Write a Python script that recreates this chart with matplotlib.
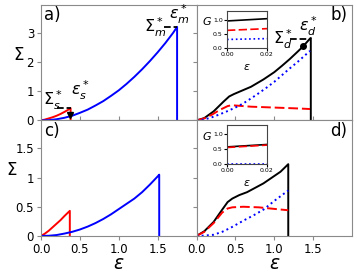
import numpy as np
import matplotlib
matplotlib.use("Agg")
import matplotlib.pyplot as plt

plt.rcParams["font.family"] = "DejaVu Sans"
plt.rcParams["mathtext.fontset"] = "dejavusans"

# panel a) single-fibre curves
eps_a_red = [0, 0.05, 0.1, 0.15, 0.2, 0.25, 0.3, 0.34, 0.38, 0.38]
sig_a_red = [0, 0.03, 0.07, 0.11, 0.16, 0.22, 0.29, 0.35, 0.42, 0]
eps_a_blue = [0, 0.1, 0.2, 0.3, 0.4, 0.5, 0.6, 0.7, 0.8, 0.9, 1.0, 1.1, 1.2,
              1.3, 1.4, 1.5, 1.6, 1.7, 1.75, 1.75]
sig_a_blue = [0, 0.01, 0.04, 0.09, 0.16, 0.26, 0.37, 0.51, 0.66, 0.84, 1.03, 1.25, 1.49,
              1.75, 2.03, 2.33, 2.65, 3.0, 3.2, 0]

# panel c)
eps_c_red = [0, 0.05, 0.1, 0.15, 0.2, 0.25, 0.3, 0.37, 0.37]
sig_c_red = [0, 0.04, 0.09, 0.15, 0.21, 0.27, 0.34, 0.43, 0]
eps_c_blue = [0, 0.1, 0.2, 0.3, 0.4, 0.5, 0.6, 0.7, 0.8, 0.9, 1.0, 1.1, 1.2,
              1.3, 1.4, 1.5, 1.52, 1.52]
sig_c_blue = [0, 0.003, 0.015, 0.04, 0.07, 0.11, 0.16, 0.22, 0.29, 0.37, 0.46, 0.55, 0.64,
              0.75, 0.88, 1.02, 1.05, 0]

# panel b) total / red part / blue part
eps_b_blk = [0, 0.1, 0.22, 0.35, 0.42, 0.48, 0.55, 0.7, 0.86, 1.0, 1.1, 1.2, 1.3, 1.37,
             1.46, 1.47, 1.47]
sig_b_blk = [0, 0.08, 0.31, 0.65, 0.82, 0.9, 0.98, 1.15, 1.4, 1.65, 1.87, 2.1, 2.35, 2.53,
             2.8, 2.82, 0]
eps_b_red = [0, 0.1, 0.2, 0.3, 0.4, 0.45, 0.55, 0.7, 0.9, 1.1, 1.3, 1.46]
sig_b_red = [0, 0.07, 0.2, 0.36, 0.49, 0.52, 0.5, 0.47, 0.45, 0.43, 0.41, 0.39]
eps_b_blue = [0, 0.1, 0.2, 0.3, 0.4, 0.5, 0.6, 0.7, 0.8, 0.9, 1.0, 1.1, 1.2, 1.3, 1.46]
sig_b_blue = [0, 0.03, 0.11, 0.21, 0.32, 0.44, 0.58, 0.75, 0.93, 1.12, 1.32, 1.55, 1.78,
              2.0, 2.38]

# panel d)
eps_d_blk = [0, 0.1, 0.22, 0.33, 0.4, 0.46, 0.55, 0.65, 0.86, 1.08, 1.18, 1.18]
sig_d_blk = [0, 0.08, 0.24, 0.45, 0.58, 0.64, 0.7, 0.75, 0.9, 1.1, 1.23, 0]
eps_d_red = [0, 0.1, 0.22, 0.33, 0.4, 0.46, 0.6, 0.8, 0.95, 1.1, 1.18]
sig_d_red = [0, 0.07, 0.22, 0.4, 0.47, 0.49, 0.5, 0.49, 0.47, 0.45, 0.44]
eps_d_blue = [0, 0.1, 0.22, 0.33, 0.44, 0.6, 0.73, 0.86, 1.0, 1.1, 1.18]
sig_d_blue = [0, 0.005, 0.02, 0.07, 0.14, 0.26, 0.35, 0.45, 0.6, 0.7, 0.78]

# insets: G vs eps
g_eps = [0.0, 0.02]
g_b_blk = [0.95, 1.03]
g_b_red = [0.62, 0.68]
g_b_blue = [0.3, 0.33]
g_d_blk = [0.57, 0.65]
g_d_red = [0.55, 0.63]
g_d_blue = [0.0, 0.0]

fig, axs = plt.subplots(2, 2, figsize=(3.57, 2.74), dpi=100)
plt.subplots_adjust(left=0.115, right=0.986, bottom=0.139, top=0.982, wspace=0, hspace=0)
ax_a, ax_b = axs[0]
ax_c, ax_d = axs[1]

spine_col = "#8a8a8a"
for ax in axs.flat:
    ax.set_xlim(0, 2)
    for s in ax.spines.values():
        s.set_color(spine_col)
    ax.tick_params(labelsize=8.5, length=3, color=spine_col, pad=2)
    ax.set_xticks([0, 0.5, 1.0, 1.5])
for ax in (ax_a, ax_b):
    ax.set_ylim(0, 3.95)
    ax.set_yticks([0, 1, 2, 3])
    ax.set_yticklabels(["0", "1", "2", "3"])
    ax.tick_params(axis="x", labelbottom=False, direction="in")
for ax in (ax_c, ax_d):
    ax.set_ylim(0, 1.98)
    ax.set_yticks([0, 0.5, 1, 1.5])
    ax.set_yticklabels(["0", "0.5", "1", "1.5"])
    ax.set_xticklabels(["0.0", "0.5", "1.0", "1.5"])
    ax.set_xlabel(r"$\varepsilon$", fontsize=13.5, va="center")
    ax.xaxis.set_label_coords(0.5, -0.24)
for ax in (ax_b, ax_d):
    ax.tick_params(axis="y", labelleft=False)
ax_a.set_ylabel(r"$\Sigma$", fontsize=12, rotation=0, ha="center", va="center")
ax_a.yaxis.set_label_coords(-0.145, 0.57)
ax_c.set_ylabel(r"$\Sigma$", fontsize=12, rotation=0, ha="center", va="center")
ax_c.yaxis.set_label_coords(-0.19, 0.57)

lw = 1.4
# a)
ax_a.plot(eps_a_red, sig_a_red, color="red", lw=lw)
ax_a.plot(eps_a_blue, sig_a_blue, color="blue", lw=lw)
ax_a.plot([0.2, 0.38], [0.44, 0.44], "k--", lw=1.3)
ax_a.plot([1.58, 1.75], [3.2, 3.2], "k--", lw=1.3)
ax_a.plot([0.37], [0.18], "kv", ms=5)
ax_a.text(0.02, 0.5, r"$\Sigma_s^*$", fontsize=11.5)
ax_a.text(0.38, 0.85, r"$\varepsilon_s^*$", fontsize=11.5)
ax_a.text(1.33, 3.0, r"$\Sigma_m^*$", fontsize=11.5)
ax_a.text(1.64, 3.45, r"$\varepsilon_m^*$", fontsize=11.5)
ax_a.text(0.04, 3.45, "a)", fontsize=12)

# b)
ax_b.plot(eps_b_blk, sig_b_blk, color="black", lw=lw)
ax_b.plot(eps_b_red, sig_b_red, color="red", lw=lw, ls=(0, (5, 2)))
ax_b.plot(eps_b_blue, sig_b_blue, color="blue", lw=lw, ls=":")
ax_b.plot([1.2, 1.47], [2.8, 2.8], "k--", lw=1.3)
ax_b.plot([1.37], [2.53], "ko", ms=4)
ax_b.text(0.98, 2.6, r"$\Sigma_d^*$", fontsize=11.5)
ax_b.text(1.32, 3.05, r"$\varepsilon_d^*$", fontsize=11.5)
ax_b.text(1.72, 3.45, "b)", fontsize=12)

# c)
ax_c.plot(eps_c_red, sig_c_red, color="red", lw=lw)
ax_c.plot(eps_c_blue, sig_c_blue, color="blue", lw=lw)
ax_c.text(0.04, 1.72, "c)", fontsize=12)

# d)
ax_d.plot(eps_d_blk, sig_d_blk, color="black", lw=lw)
ax_d.plot(eps_d_red, sig_d_red, color="red", lw=lw, ls=(0, (5, 2)))
ax_d.plot(eps_d_blue, sig_d_blue, color="blue", lw=lw, ls=":")
ax_d.text(1.72, 1.72, "d)", fontsize=12)

# insets
def inset(rect, blk, red, blue):
    ia = fig.add_axes(rect)
    ia.plot(g_eps, blk, color="black", lw=1.2)
    ia.plot(g_eps, red, color="red", lw=1.2, ls=(0, (5, 2)))
    ia.plot(g_eps, blue, color="blue", lw=1.2, ls=":")
    ia.set_xlim(0, 0.02)
    ia.set_ylim(0, 1.3)
    ia.set_xticks([0, 0.02])
    ia.set_xticklabels(["0.00", "0.02"])
    ia.set_yticks([0, 0.5, 1.0])
    ia.tick_params(labelsize=4.5, length=2, pad=1)
    ia.set_ylabel(r"$G$", fontsize=8, rotation=0, ha="center", va="center")
    ia.yaxis.set_label_coords(-0.5, 0.72)
    ia.set_xlabel(r"$\varepsilon$", fontsize=8, va="center")
    ia.xaxis.set_label_coords(0.5, -0.5)
    for s in ia.spines.values():
        s.set_color("#444444")
    return ia

inset([227 / 357, 1 - 48 / 274, 40 / 357, 37 / 274], g_b_blk, g_b_red, g_b_blue)
inset([227 / 357, 1 - 164 / 274, 40 / 357, 39 / 274], g_d_blk, g_d_red, g_d_blue)

fig.savefig("out.png", dpi=100)
